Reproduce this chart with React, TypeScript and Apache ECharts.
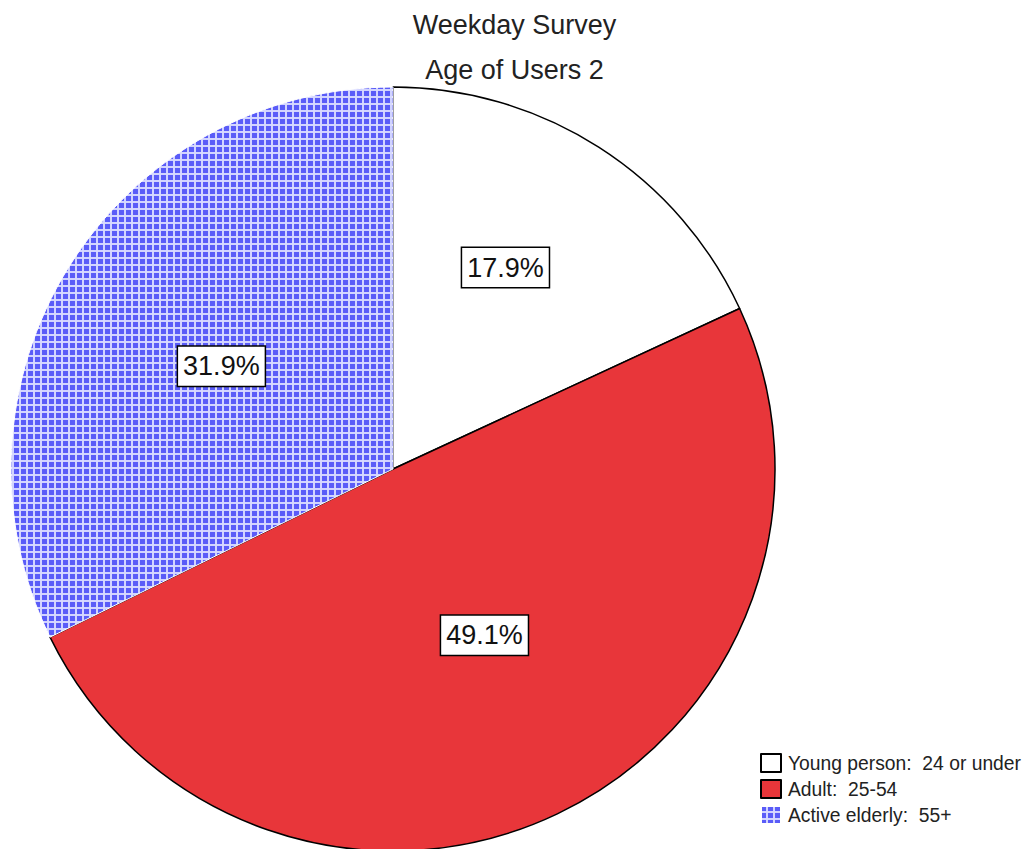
import React, { useEffect, useRef } from "react";
import * as echarts from "echarts";

const titleLines = ["Weekday Survey", "Age of Users 2"];
const categories = ["Young person:  24 or under", "Adult:  25-54", "Active elderly:  55+"];
const percents = [17.9, 49.1, 31.9];
const labelOffsets: [number, number][] = [[8, -38], [8, -9], [-7, 0]];

function makeCheckPattern(): HTMLCanvasElement {
  const c = document.createElement("canvas");
  c.width = 7;
  c.height = 7;
  const ctx = c.getContext("2d")!;
  ctx.fillStyle = "#c4c6ff";
  ctx.fillRect(0, 0, 7, 7);
  ctx.fillStyle = "#dedfff";
  ctx.fillRect(5.5, 0, 1, 7);
  ctx.fillRect(0, 5.5, 7, 1);
  ctx.fillStyle = "#5a5cf8";
  ctx.fillRect(0, 0, 5, 5);
  return c;
}

export default function App() {
  const ref = useRef<HTMLDivElement>(null);
  useEffect(() => {
    if (!ref.current) return;
    const chart = echarts.init(ref.current, undefined, { renderer: "svg" });
    const font = "'Liberation Sans', Arial, sans-serif";
    const pattern = makeCheckPattern();
    const styles = [
      { color: "#ffffff", borderColor: "#000000", borderWidth: 1.5 },
      { color: "#e8363a", borderColor: "#000000", borderWidth: 1.5 },
      {
        color: {
          image: pattern,
          repeat: "repeat",
          imageWidth: 7,
          imageHeight: 7,
        },
        borderColor: "#ffffff",
        borderWidth: 1,
      },
    ];
    chart.setOption({
      animation: false,
      backgroundColor: "#ffffff",
      title: {
        text: titleLines.join("\n"),
        left: "center",
        top: -2.5,
        textStyle: {
          fontFamily: font,
          fontSize: 27,
          fontWeight: "normal",
          color: "#222222",
          lineHeight: 45,
        },
      },
      legend: {
        orient: "vertical",
        left: 755,
        top: 748,
        itemWidth: 20,
        itemHeight: 18,
        itemGap: 6,
        icon: "rect",
        selectedMode: false,
        textStyle: {
          fontFamily: font,
          fontSize: 19.3,
          color: "#222222",
          padding: [0, 0, 0, 2],
        },
        data: categories,
      },
      series: [
        {
          type: "pie",
          center: [393, 469],
          radius: 382,
          startAngle: 90,
          clockwise: true,
          silent: true,
          emphasis: { disabled: true },
          labelLine: { show: false },
          label: {
            show: true,
            position: "inside",
            formatter: (p: any) => p.value.toFixed(1) + "%",
            fontFamily: font,
            fontSize: 27,
            color: "#111111",
            backgroundColor: "#ffffff",
            borderColor: "#000000",
            borderWidth: 1.5,
            padding: [7, 5, 5, 5],
          },
          data: categories.map((name, i) => ({
            name,
            value: percents[i],
            itemStyle: styles[i],
            label: { offset: labelOffsets[i] },
          })),
        },
      ],
    });
    return () => chart.dispose();
  }, []);
  return (
    <div
      ref={ref}
      style={{ position: "fixed", left: 0, top: 0, width: 1029, height: 849 }}
    />
  );
}
